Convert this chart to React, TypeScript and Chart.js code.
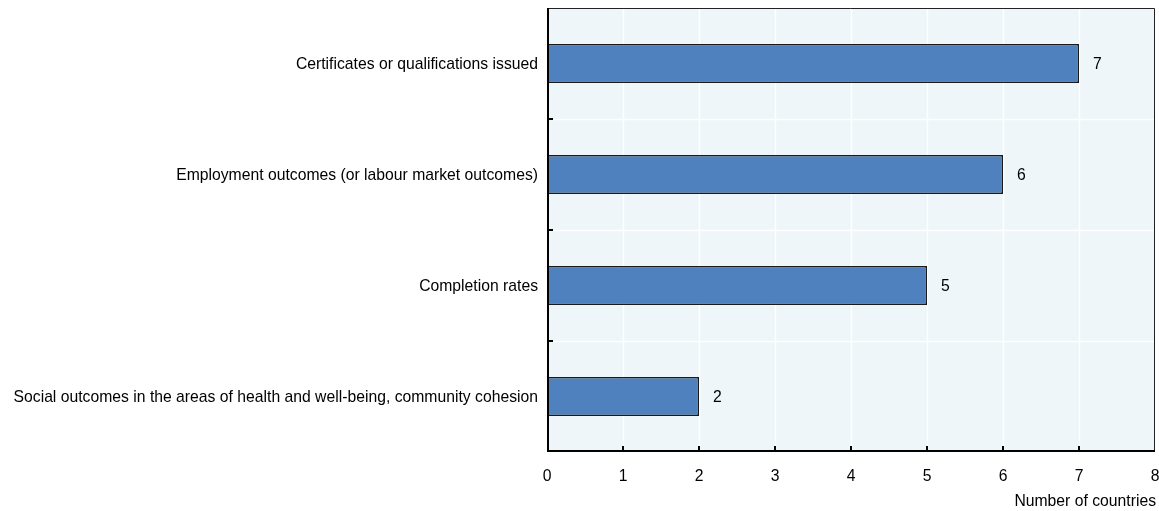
import React, { useEffect, useRef } from "react";
import { Chart, registerables } from "chart.js";

Chart.register(...registerables);

const categories = [
  "Certificates or qualifications issued",
  "Employment outcomes (or labour market outcomes)",
  "Completion rates",
  "Social outcomes in the areas of health and well-being, community cohesion",
];
const values = [7, 6, 5, 2];
const xTicks = [0, 1, 2, 3, 4, 5, 6, 7, 8];
const xTitle = "Number of countries";

const FONT = "'Liberation Sans', Arial, sans-serif";
const FONT_SIZE = 17;
const SQUEEZE = 0.925;

function narrowText(ctx: CanvasRenderingContext2D, text: string, x: number, y: number, align: "left" | "right" | "center") {
  ctx.save();
  ctx.translate(x, y);
  ctx.scale(SQUEEZE, 1);
  ctx.textAlign = align;
  ctx.textBaseline = "middle";
  ctx.fillText(text, 0, 0);
  ctx.restore();
}

const framePlugin = {
  id: "frame",
  beforeDatasetsDraw(chart: any) {
    const { ctx, chartArea: a, scales } = chart;
    ctx.save();
    ctx.fillStyle = "#EEF6F9";
    ctx.fillRect(a.left, a.top, a.right - a.left, a.bottom - a.top);
    ctx.strokeStyle = "#ffffff";
    ctx.lineWidth = 1.5;
    xTicks.forEach((t) => {
      const x = Math.round(scales.x.getPixelForValue(t)) + 0.5;
      ctx.beginPath();
      ctx.moveTo(x, a.top);
      ctx.lineTo(x, a.bottom);
      ctx.stroke();
    });
    const step = (a.bottom - a.top) / categories.length;
    for (let i = 1; i < categories.length; i++) {
      const y = Math.round(a.top + step * i) + 0.5;
      ctx.beginPath();
      ctx.moveTo(a.left, y);
      ctx.lineTo(a.right, y);
      ctx.stroke();
    }
    ctx.restore();
  },
  afterDatasetsDraw(chart: any) {
    const { ctx, chartArea: a, scales } = chart;
    ctx.save();
    ctx.strokeStyle = "#222222";
    ctx.lineWidth = 1;
    ctx.beginPath();
    ctx.moveTo(a.left, a.top + 0.5);
    ctx.lineTo(a.right - 0.5, a.top + 0.5);
    ctx.lineTo(a.right - 0.5, a.bottom);
    ctx.stroke();
    ctx.strokeStyle = "#000000";
    ctx.lineWidth = 2;
    ctx.beginPath();
    ctx.moveTo(a.left + 1, a.top);
    ctx.lineTo(a.left + 1, a.bottom - 1);
    ctx.lineTo(a.right, a.bottom - 1);
    ctx.stroke();
    const step = (a.bottom - a.top) / categories.length;
    for (let i = 1; i < categories.length; i++) {
      const y = Math.round(a.top + step * i);
      ctx.beginPath();
      ctx.moveTo(a.left, y);
      ctx.lineTo(a.left + 6, y);
      ctx.stroke();
    }
    xTicks.slice(1, -1).forEach((t) => {
      const x = Math.round(scales.x.getPixelForValue(t));
      ctx.beginPath();
      ctx.moveTo(x, a.bottom);
      ctx.lineTo(x, a.bottom - 6);
      ctx.stroke();
    });

    ctx.fillStyle = "#000000";
    ctx.font = `${FONT_SIZE}px ${FONT}`;
    // category labels
    categories.forEach((c, i) => {
      const y = scales.y.getPixelForValue(i);
      narrowText(ctx, c, a.left - 9, y + 1, "right");
    });
    // x tick labels
    xTicks.forEach((t) => {
      narrowText(ctx, String(t), scales.x.getPixelForValue(t), a.bottom + 24, "center");
    });
    // axis title
    narrowText(ctx, xTitle, a.right + 1, a.bottom + 49, "right");
    // value labels
    const meta = chart.getDatasetMeta(0);
    meta.data.forEach((bar: any, i: number) => {
      narrowText(ctx, String(values[i]), bar.x + 14, bar.y + 1, "left");
    });
    ctx.restore();
  },
};

export default function App() {
  const ref = useRef<HTMLCanvasElement>(null);
  useEffect(() => {
    document.body.style.margin = "0";
    const chart = new Chart(ref.current!, {
      type: "bar",
      data: {
        labels: categories,
        datasets: [
          {
            data: values,
            backgroundColor: "#4E81BD",
            borderColor: "#1a1a1a",
            borderWidth: 1.5,
            barPercentage: 0.35,
            categoryPercentage: 1,
          },
        ],
      },
      options: {
        indexAxis: "y",
        animation: false,
        responsive: false,
        layout: { padding: { top: 8, right: 4, left: 0, bottom: 0 } },
        plugins: { legend: { display: false }, tooltip: { enabled: false } },
        scales: {
          x: {
            min: 0,
            max: 8,
            afterFit: (s: any) => {
              s.height = 59;
            },
            grid: { display: false, drawTicks: false },
            border: { display: false },
            ticks: { display: false, stepSize: 1 },
          },
          y: {
            afterFit: (s: any) => {
              s.width = 547;
            },
            grid: { display: false, drawTicks: false },
            border: { display: false },
            ticks: { display: false },
          },
        },
      },
      plugins: [framePlugin],
    } as any);
    return () => chart.destroy();
  }, []);
  return (
    <div style={{ position: "absolute", left: 0, top: 0, width: 1159, height: 511 }}>
      <canvas ref={ref} width={1159} height={511} />
    </div>
  );
}
